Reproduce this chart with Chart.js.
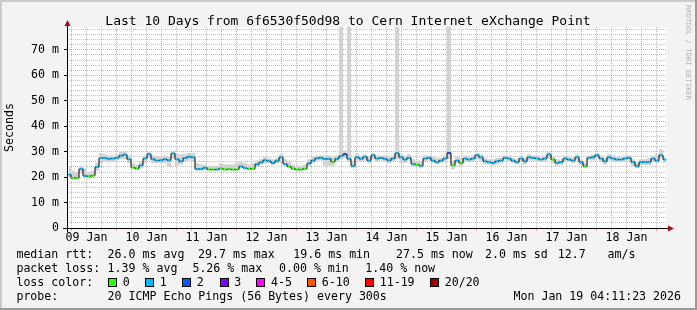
<!DOCTYPE html>
<html>
<head>
<meta charset="utf-8">
<script src="https://cdn.jsdelivr.net/npm/chart.js@4.4.1/dist/chart.umd.min.js"></script>
<style>
  html, body { margin: 0; padding: 0; background: #f3f3f3; }
  #wrap { width: 697px; height: 310px; }
</style>
</head>
<body>
<div id="wrap"><canvas id="c" width="697" height="310"></canvas></div>
<script>
// time axis: hours since 09 Jan 00:00, graph covers 09 Jan 04:11:23 .. 19 Jan 04:11:23
const startHour = 4 + 11 / 60 + 23 / 3600;
const stepHours = 1.6;
const dayLabels = ['09 Jan', '10 Jan', '11 Jan', '12 Jan', '13 Jan', '14 Jan', '15 Jan', '16 Jan', '17 Jan', '18 Jan'];

// median rtt in ms, one value per 1.6 h
const medianRtt = [
  21.0, 19.7, 19.7, 23.2, 20.5, 20.3, 20.6, 24.0, 27.5, 27.5,
  27.2, 27.3, 27.6, 28.4, 28.8, 27.0, 23.8, 23.4, 24.6, 27.3,
  29.0, 27.0, 26.5, 26.6, 27.0, 26.6, 29.3, 27.0, 26.2, 27.5,
  28.0, 27.8, 23.2, 23.2, 23.7, 23.0, 23.0, 23.0, 23.4, 23.0,
  23.2, 23.0, 23.0, 24.2, 23.6, 23.3, 23.3, 25.0, 25.8, 26.6,
  26.3, 25.6, 26.4, 27.8, 25.2, 24.2, 23.4, 23.0, 23.0, 23.3,
  25.4, 26.5, 27.4, 27.6, 27.1, 27.2, 26.0, 27.2, 28.3, 29.0,
  27.2, 24.4, 27.8, 27.2, 28.0, 26.5, 28.6, 27.3, 27.6, 27.2,
  26.5, 27.3, 29.4, 27.8, 26.9, 27.6, 25.2, 24.9, 24.5, 27.3,
  27.6, 26.5, 25.9, 26.5, 27.3, 29.5, 24.6, 26.5, 25.5, 27.3,
  26.9, 27.3, 28.6, 27.8, 26.2, 25.9, 25.6, 26.2, 26.5, 27.6,
  27.3, 26.5, 25.9, 27.3, 26.2, 27.8, 27.6, 27.3, 26.9, 27.3,
  28.9, 26.9, 25.6, 25.9, 27.3, 26.9, 26.5, 27.8, 25.9, 24.3,
  27.6, 27.8, 28.6, 27.3, 26.2, 27.8, 27.3, 26.9, 26.9, 27.3,
  27.6, 25.9, 24.3, 25.9, 25.9, 25.9, 27.3, 26.5, 28.6, 26.9
];

// lost pings out of 20 for each step
const lossCount = [
  1, 0, 0, 1, 1, 0, 0, 1, 1, 1,
  1, 1, 1, 1, 1, 1, 0, 0, 1, 1,
  1, 1, 1, 1, 1, 1, 1, 1, 1, 1,
  1, 1, 1, 1, 1, 0, 0, 1, 0, 0,
  0, 0, 0, 1, 1, 0, 0, 1, 1, 1,
  1, 1, 1, 1, 1, 0, 0, 0, 0, 0,
  1, 1, 1, 1, 1, 1, 0, 1, 1, 2,
  1, 1, 1, 1, 1, 1, 1, 1, 1, 1,
  1, 1, 1, 1, 1, 1, 1, 0, 1, 1,
  1, 1, 1, 1, 1, 2, 0, 1, 0, 1,
  1, 1, 1, 1, 1, 1, 1, 1, 1, 1,
  1, 1, 1, 1, 1, 1, 1, 1, 1, 1,
  1, 0, 1, 1, 1, 1, 1, 1, 1, 0,
  1, 1, 1, 1, 1, 1, 1, 1, 1, 1,
  1, 1, 1, 1, 1, 1, 1, 1, 1, 1
];

// smoke: spread of the 20 pings (upper / lower edge)
const smokeHigh = [
  24.0, 22.5, 22.0, 24.5, 23.5, 22.0, 22.5, 25.5, 29.5, 29.0,
  28.5, 28.5, 29.0, 30.0, 30.0, 28.5, 25.5, 25.0, 26.0, 28.5,
  30.0, 28.5, 28.0, 28.0, 28.5, 28.0, 30.5, 29.0, 29.0, 29.0,
  29.5, 29.5, 25.5, 25.0, 25.0, 24.5, 24.5, 24.5, 25.5, 25.0,
  25.0, 25.0, 25.5, 26.0, 25.5, 25.0, 25.5, 26.5, 27.0, 28.0,
  27.5, 27.0, 27.5, 29.0, 27.0, 26.0, 25.0, 24.5, 24.5, 25.0,
  27.0, 28.0, 28.5, 28.5, 28.5, 28.5, 28.0, 28.5, 85.0, 30.5,
  85.0, 26.5, 29.0, 28.5, 29.0, 28.0, 29.5, 28.5, 28.5, 28.5,
  28.0, 28.5, 85.0, 29.0, 28.5, 29.0, 27.0, 26.5, 26.0, 28.5,
  28.5, 28.0, 27.5, 27.5, 28.5, 85.0, 26.5, 28.0, 27.5, 28.5,
  28.0, 28.5, 29.5, 29.0, 27.5, 27.0, 27.0, 27.5, 27.5, 28.5,
  28.5, 27.5, 27.0, 28.5, 27.5, 29.0, 28.5, 28.5, 28.0, 28.5,
  30.0, 28.0, 27.0, 27.0, 28.5, 28.0, 27.5, 29.0, 27.0, 25.5,
  28.5, 29.0, 29.5, 28.5, 27.5, 29.0, 28.5, 28.0, 28.0, 28.5,
  28.5, 27.0, 25.5, 27.0, 27.0, 27.5, 28.5, 29.0, 31.0, 28.0
];
const smokeLow = [
  20.0, 19.0, 19.0, 21.5, 19.5, 19.5, 20.0, 22.5, 25.5, 26.0,
  26.0, 26.0, 26.5, 27.0, 27.0, 25.5, 23.0, 22.8, 23.5, 25.5,
  27.5, 25.5, 25.5, 25.5, 25.5, 24.0, 27.5, 24.5, 25.0, 26.0,
  26.5, 26.0, 22.5, 22.5, 22.8, 22.5, 22.5, 22.5, 22.8, 22.5,
  22.5, 22.5, 22.5, 23.5, 23.0, 22.8, 22.8, 24.0, 25.0, 25.5,
  25.5, 24.8, 25.5, 25.5, 24.0, 23.5, 22.8, 22.5, 22.5, 22.8,
  24.5, 25.5, 26.5, 26.5, 24.5, 24.5, 24.5, 26.0, 27.0, 27.5,
  26.0, 23.5, 26.5, 26.0, 26.5, 25.5, 27.0, 26.0, 26.5, 26.0,
  25.5, 26.0, 27.0, 25.5, 25.5, 26.5, 24.0, 24.0, 23.5, 26.0,
  26.5, 25.5, 25.0, 25.5, 26.0, 27.0, 23.0, 25.5, 24.5, 26.0,
  26.0, 26.0, 27.0, 26.5, 25.0, 25.0, 24.5, 25.0, 25.5, 26.5,
  26.0, 25.5, 25.0, 26.0, 25.0, 26.5, 26.5, 26.0, 26.0, 26.0,
  27.5, 25.5, 24.5, 24.8, 26.0, 26.0, 25.5, 26.5, 24.8, 23.5,
  26.5, 26.5, 27.5, 26.0, 25.0, 26.5, 26.0, 26.0, 26.0, 26.0,
  26.5, 24.5, 23.5, 24.8, 24.8, 24.8, 26.0, 25.5, 27.5, 25.5
];

const lossColors = ['#26ff00', '#00b8ff', '#0059ff', '#7e00ff', '#ff00ff', '#ff5500', '#ff0000', '#a10000'];
const lossLabels = ['0', '1', '2', '3', '4-5', '6-10', '11-19', '20/20'];

const mono = '"DejaVu Sans Mono", monospace';
const minorGrid = 'rgba(140,140,140,0.55)';
const majorGrid = 'rgba(210,50,50,0.45)';

function pts(arr) {
  return arr.map((v, i) => ({ x: startHour + (i + 0.5) * stepHours, y: v }));
}

const rrdDecor = {
  id: 'rrdDecor',
  beforeDraw(chart) {
    const ctx = chart.ctx, a = chart.chartArea;
    ctx.save();
    ctx.fillStyle = '#f3f3f3';
    ctx.fillRect(0, 0, 697, 310);
    // frame
    ctx.fillStyle = '#cbcbcb';
    ctx.fillRect(0, 0, 697, 2);
    ctx.fillRect(0, 0, 2, 310);
    ctx.fillStyle = '#999999';
    ctx.fillRect(0, 308, 697, 2);
    ctx.fillRect(695, 0, 2, 310);
    ctx.fillStyle = '#ffffff';
    ctx.fillRect(a.left, a.top, a.right - a.left, a.bottom - a.top);
    ctx.restore();
  },
  afterDraw(chart) {
    const ctx = chart.ctx, a = chart.chartArea;
    const x0 = a.left, y0 = chart.scales.y.getPixelForValue(0);
    ctx.save();
    // axes with arrows
    ctx.strokeStyle = '#000';
    ctx.lineWidth = 1;
    ctx.beginPath();
    ctx.moveTo(x0 - 4, y0 + 0.5); ctx.lineTo(a.right + 3, y0 + 0.5);
    ctx.moveTo(x0 + 0.5, y0 + 4); ctx.lineTo(x0 + 0.5, a.top - 3);
    ctx.stroke();
    ctx.fillStyle = '#a01010';
    ctx.beginPath();
    ctx.moveTo(a.right + 7, y0 + 0.5); ctx.lineTo(a.right + 1, y0 - 2.5); ctx.lineTo(a.right + 1, y0 + 3.5);
    ctx.closePath(); ctx.fill();
    ctx.beginPath();
    ctx.moveTo(x0 + 0.5, a.top - 7); ctx.lineTo(x0 - 2.5, a.top - 1); ctx.lineTo(x0 + 3.5, a.top - 1);
    ctx.closePath(); ctx.fill();

    // title
    ctx.fillStyle = '#000';
    ctx.font = '13px ' + mono;
    ctx.textAlign = 'center';
    ctx.textBaseline = 'alphabetic';
    ctx.fillText('Last 10 Days from 6f6530f50d98 to Cern Internet eXchange Point', 348, 24.5);

    // side watermark
    ctx.save();
    ctx.translate(688, 5);
    ctx.rotate(Math.PI / 2);
    ctx.font = '7.2px ' + mono;
    ctx.fillStyle = '#b4b4b4';
    ctx.textAlign = 'left';
    ctx.textBaseline = 'middle';
    ctx.fillText('RRDTOOL / TOBI OETIKER', 0, 0);
    ctx.restore();

    // legend
    ctx.font = '11.6px ' + mono;
    ctx.textAlign = 'left';
    ctx.textBaseline = 'middle';
    ctx.fillStyle = '#000';
    const row1 = [[16.4, 'median rtt:'], [107.6, '26.0 ms avg'], [198, '29.7 ms max'], [293.3, '19.6 ms min'],
                  [396, '27.5 ms now'], [485, '2.0 ms sd'], [557.8, '12.7'], [607.6, 'am/s']];
    const row2 = [[16.4, 'packet loss:'], [107.6, '1.39 % avg'], [192.4, '5.26 % max'], [279, '0.00 % min'], [365.3, '1.40 % now']];
    row1.forEach(t => ctx.fillText(t[1], t[0], 254.5));
    row2.forEach(t => ctx.fillText(t[1], t[0], 268.5));
    ctx.fillText('loss color:', 16.4, 282.5);
    const boxX = [108, 145, 182, 219.5, 256.4, 307, 365, 430];
    boxX.forEach((bx, i) => {
      ctx.fillStyle = lossColors[i];
      ctx.fillRect(Math.round(bx), 278, 8, 8);
      ctx.strokeStyle = '#000';
      ctx.strokeRect(Math.round(bx) + 0.5, 278.5, 8, 8);
      ctx.fillStyle = '#000';
      ctx.fillText(lossLabels[i], bx + 14.7, 282.5);
    });
    ctx.fillText('probe:', 16.4, 296.5);
    ctx.fillText('20 ICMP Echo Pings (56 Bytes) every 300s', 107.6, 296.5);
    ctx.textAlign = 'right';
    ctx.fillText('Mon Jan 19 04:11:23 2026', 681, 296.5);
    ctx.restore();
  }
};

Chart.defaults.font.family = mono;
Chart.defaults.font.size = 11.6;
Chart.defaults.color = '#000';

new Chart(document.getElementById('c'), {
  type: 'line',
  data: {
    datasets: [
      {
        label: 'median rtt',
        data: pts(medianRtt),
        stepped: 'middle',
        borderColor: '#000',
        borderWidth: 1,
        pointStyle: 'line',
        pointRadius: 1.5,
        pointBorderWidth: 2,
        pointBorderColor: lossCount.map(n => lossColors[n]),
        pointHoverRadius: 0,
        fill: false
      },
      {
        label: 'smoke high',
        data: pts(smokeHigh),
        stepped: 'middle',
        borderWidth: 0,
        pointRadius: 0,
        backgroundColor: '#d2d2d2',
        fill: '+1'
      },
      {
        label: 'smoke low',
        data: pts(smokeLow),
        stepped: 'middle',
        borderWidth: 0,
        pointRadius: 0,
        fill: false
      }
    ]
  },
  options: {
    responsive: false,
    animation: false,
    devicePixelRatio: 1,
    layout: { padding: { top: 27, right: 30, left: 0, bottom: 0 } },
    plugins: { legend: { display: false }, tooltip: { enabled: false } },
    scales: {
      x: {
        type: 'linear',
        min: startHour,
        max: startHour + 240,
        afterBuildTicks(scale) {
          const t = [];
          for (let h = 6; h <= 240; h += 6) t.push({ value: h });
          scale.ticks = t;
        },
        afterFit(scale) { scale.height = 82; },
        ticks: {
          autoSkip: false,
          maxRotation: 0,
          padding: 0,
          callback: v => (v % 24 === 12 ? dayLabels[(v - 12) / 24] : '')
        },
        grid: {
          color: c => (c.tick && c.tick.value % 24 === 0 ? majorGrid : minorGrid),
          tickColor: c => (c.tick && c.tick.value % 24 === 0 ? majorGrid : minorGrid),
          tickLength: 3,
          drawTicks: true
        },
        border: { display: false, dash: [1, 1] }
      },
      y: {
        min: 0,
        max: 79,
        afterBuildTicks(scale) {
          const t = [];
          for (let v = 0; v <= 78; v += 2) t.push({ value: v });
          scale.ticks = t;
        },
        afterFit(scale) { scale.width = 67; },
        ticks: {
          autoSkip: false,
          padding: 5,
          callback: v => (v % 10 !== 0 ? '' : (v === 0 ? '0' : v + ' m'))
        },
        grid: {
          color: c => (c.tick && c.tick.value % 10 === 0 ? majorGrid : minorGrid),
          tickColor: c => (c.tick && c.tick.value % 10 === 0 ? '#000' : 'rgba(0,0,0,0)'),
          tickLength: 3,
          drawTicks: true
        },
        border: { display: false, dash: [1, 1] },
        title: {
          display: true,
          text: 'Seconds',
          font: { size: 11.6 },
          padding: { top: 3.5, bottom: 0 }
        }
      }
    }
  },
  plugins: [rrdDecor]
});
</script>
</body>
</html>
